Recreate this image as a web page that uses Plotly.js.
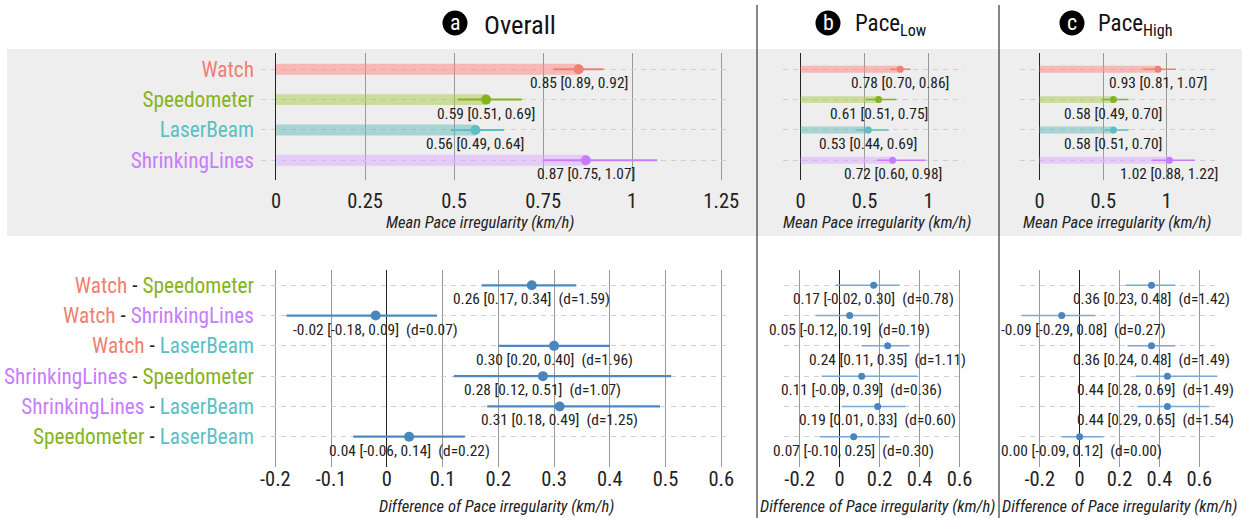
<!DOCTYPE html>
<html><head><meta charset="utf-8">
<script src="https://cdn.plot.ly/plotly-3.0.1.min.js"></script>
<style>html,body{margin:0;padding:0;background:#fff;} #chart{width:1242px;height:518px;}</style>
</head><body><div id="chart"></div>
<script>
// ---------- data ----------
const conditions = ['Watch', 'Speedometer', 'LaserBeam', 'ShrinkingLines'];
const condColors = ['#F07F72', '#85B41B', '#5CBFC3', '#C77CFF'];
const barColors = ['rgba(254,132,126,0.5)', 'rgba(170,202,74,0.5)', 'rgba(100,186,186,0.5)', 'rgba(220,168,255,0.5)'];

const overallMean = [0.85, 0.59, 0.56, 0.87];
const overallLow = [0.78, 0.51, 0.49, 0.75];
const overallHigh = [0.92, 0.69, 0.64, 1.07];
const overallLowPrinted = [0.89, 0.51, 0.49, 0.75];

const paceLowMean = [0.78, 0.61, 0.53, 0.72];
const paceLowLow = [0.70, 0.51, 0.44, 0.60];
const paceLowHigh = [0.86, 0.75, 0.69, 0.98];

const paceHighMean = [0.93, 0.58, 0.58, 1.02];
const paceHighLow = [0.81, 0.49, 0.51, 0.88];
const paceHighHigh = [1.07, 0.70, 0.70, 1.22];

const pairs = [[0, 1], [0, 3], [0, 2], [3, 1], [3, 2], [1, 2]];

const diffOverallMean = [0.26, -0.02, 0.30, 0.28, 0.31, 0.04];
const diffOverallLow = [0.17, -0.18, 0.20, 0.12, 0.18, -0.06];
const diffOverallHigh = [0.34, 0.09, 0.40, 0.51, 0.49, 0.14];
const diffOverallD = [1.59, 0.07, 1.96, 1.07, 1.25, 0.22];

const diffLowMean = [0.17, 0.05, 0.24, 0.11, 0.19, 0.07];
const diffLowLow = [-0.02, -0.12, 0.11, -0.09, 0.01, -0.10];
const diffLowHigh = [0.30, 0.19, 0.35, 0.39, 0.33, 0.25];
const diffLowD = [0.78, 0.19, 1.11, 0.36, 0.60, 0.30];

const diffHighMean = [0.36, -0.09, 0.36, 0.44, 0.44, 0.00];
const diffHighLow = [0.23, -0.29, 0.24, 0.28, 0.29, -0.09];
const diffHighHigh = [0.48, 0.08, 0.48, 0.69, 0.65, 0.12];
const diffHighD = [1.42, 0.27, 1.49, 1.49, 1.54, 0.00];

const topTicksA = [0, 0.25, 0.5, 0.75, 1, 1.25];
const topTicksA_text = ['0', '0.25', '0.5', '0.75', '1', '1.25'];
const topTicksBC = [0, 0.5, 1];
const topTicksBC_text = ['0', '0.5', '1'];
const botTicksA = [-0.2, -0.1, 0, 0.1, 0.2, 0.3, 0.4, 0.5, 0.6];
const botTicksA_text = ['-0.2', '-0.1', '0', '0.1', '0.2', '0.3', '0.4', '0.5', '0.6'];
const botTicksBC = [-0.2, 0, 0.2, 0.4, 0.6];
const botTicksBC_text = ['-0.2', '0', '0.2', '0.4', '0.6'];

// ---------- helpers ----------
const W = 1242, H = 518;
const FONT = 'Roboto Condensed, DejaVu Sans Condensed, sans-serif';
const px = x => x / W;
const py = y => 1 - y / H;
const NB = '\u00A0';
const f2 = v => v.toFixed(2);
const STEEL = '#4A86BE';
const LBL = 15.4, TICK = 20.5, YLBL = 21.3, TITLE = 26.5, PACE = 23, AXT = 16.5;
// horizontal extents (px) within which value labels of each column are kept
const columnBounds = {a: [8, 754], b: [759, 997], c: [1001, 1234]};
const xrefColumn = {x: 'a', x4: 'a', x2: 'b', x5: 'b', x3: 'c', x6: 'c'};

const traces = [];
const annotations = [];

function topPanel(k, mean, low, high, lowPrinted, barW, mSize, lw) {
  const xr = 'x' + (k === 1 ? '' : k), yr = 'y' + (k === 1 ? '' : k);
  traces.push({
    type: 'bar', orientation: 'h', xaxis: xr, yaxis: yr,
    x: mean, y: conditions.map((c, i) => i), width: barW,
    marker: {color: barColors, line: {width: 0}}, hoverinfo: 'skip'
  });
  conditions.forEach((c, i) => {
    traces.push({
      type: 'scatter', mode: 'markers', xaxis: xr, yaxis: yr,
      x: [mean[i]], y: [i],
      marker: {color: condColors[i], size: mSize},
      error_x: {type: 'data', symmetric: false, array: [high[i] - mean[i]], arrayminus: [mean[i] - low[i]],
                width: 0, thickness: lw, color: condColors[i]},
      hoverinfo: 'skip'
    });
    annotations.push({
      xref: xr, yref: yr, x: mean[i], y: i, yshift: -14, showarrow: false,
      text: f2(mean[i]) + ' [' + f2(lowPrinted[i]) + ', ' + f2(high[i]) + ']',
      font: {family: FONT, size: LBL, color: '#222'}
    });
  });
}

function botPanel(k, mean, low, high, d, mSize, lw, lineColor) {
  const xr = 'x' + k, yr = 'y' + k;
  traces.push({
    type: 'scatter', mode: 'markers', xaxis: xr, yaxis: yr,
    x: mean, y: pairs.map((p, i) => i),
    marker: {color: STEEL, size: mSize},
    error_x: {type: 'data', symmetric: false, array: high.map((h, i) => h - mean[i]),
              arrayminus: low.map((l, i) => mean[i] - l), width: 0, thickness: lw, color: lineColor},
    hoverinfo: 'skip'
  });
  mean.forEach((m, i) => {
    annotations.push({
      xref: xr, yref: yr, x: m, y: i, yshift: -14, showarrow: false,
      text: f2(m) + ' [' + f2(low[i]) + ', ' + f2(high[i]) + ']' + NB + NB + '(d=' + f2(d[i]) + ')',
      font: {family: FONT, size: LBL, color: '#222'}
    });
  });
}

topPanel(1, overallMean, overallLow, overallHigh, overallLowPrinted, 0.36, 10, 2);
topPanel(2, paceLowMean, paceLowLow, paceLowHigh, paceLowLow, 0.23, 7, 1.5);
topPanel(3, paceHighMean, paceHighLow, paceHighHigh, paceHighLow, 0.23, 7, 1.5);
botPanel(4, diffOverallMean, diffOverallLow, diffOverallHigh, diffOverallD, 10, 2.2, '#4F89C0');
botPanel(5, diffLowMean, diffLowLow, diffLowHigh, diffLowD, 7, 1.5, '#7AA8D6');
botPanel(6, diffHighMean, diffHighLow, diffHighHigh, diffHighD, 7, 1.5, '#7AA8D6');

function xAxis(d0, d1, range, tv, tt, anchor, standoff) {
  return {
    domain: [px(d0), px(d1)], range: range, anchor: anchor,
    tickvals: tv, ticktext: tt, ticks: '', ticklabelstandoff: standoff,
    showgrid: true, gridcolor: '#999999', gridwidth: 1,
    zeroline: true, zerolinecolor: '#222', zerolinewidth: 1,
    showline: false, fixedrange: true,
    tickfont: {family: FONT, size: TICK, color: '#222'}
  };
}
function yAxis(t0, t1, range, n, anchor, labels) {
  const a = {
    domain: [py(t1), py(t0)], range: range, anchor: anchor,
    tickvals: Array.from({length: n}, (v, i) => i),
    showgrid: true, gridcolor: '#cfcfcf', gridwidth: 1, griddash: '5px,5px',
    zeroline: false, showline: false, ticks: '', fixedrange: true,
    showticklabels: !!labels, ticklabelstandoff: 6,
    tickfont: {family: FONT, size: YLBL, color: '#222'}
  };
  if (labels) a.ticktext = labels;
  return a;
}
const span = i => '<span style="color:' + condColors[i] + '">' + conditions[i] + '</span>';
const topLabels = conditions.map((c, i) => span(i));
const pairLabels = pairs.map(p => span(p[0]) + ' - ' + span(p[1]));

const TOP = [53, 180], BOT = [270, 466.7];
const topYR = [3.65, -0.537], botYR = [5.99, -0.505];

function paperText(x, y, text, size, color, xanchor) {
  return {xref: 'paper', yref: 'paper', x: px(x), y: py(y), text: text, showarrow: false,
          xanchor: xanchor || 'center', yanchor: 'middle', font: {family: FONT, size: size, color: color}};
}
function circle(cx, cy, r) {
  return {type: 'circle', xref: 'paper', yref: 'paper', x0: px(cx - r), x1: px(cx + r),
          y0: py(cy + r), y1: py(cy - r), fillcolor: '#000', line: {width: 0}};
}

const layout = {
  width: W, height: H, margin: {l: 0, r: 0, t: 0, b: 0},
  paper_bgcolor: '#fff', plot_bgcolor: 'rgba(0,0,0,0)',
  showlegend: false, hovermode: false, barmode: 'overlay',
  font: {family: FONT, color: '#222'},
  xaxis: xAxis(261, 728, [-0.042, 1.269], topTicksA, topTicksA_text, 'y', 6),
  xaxis2: xAxis(782.8, 963.6, [-0.139, 1.275], topTicksBC, topTicksBC_text, 'y2', 6),
  xaxis3: xAxis(1020.4, 1217.9, [-0.15, 1.40], topTicksBC, topTicksBC_text, 'y3', 6),
  xaxis4: xAxis(261, 729.5, [-0.2257, 0.6147], botTicksA, botTicksA_text, 'y4', -2),
  xaxis5: xAxis(783.5, 963.6, [-0.281, 0.62], botTicksBC, botTicksBC_text, 'y5', -2),
  xaxis6: xAxis(1020.4, 1217.9, [-0.297, 0.693], botTicksBC, botTicksBC_text, 'y6', -2),
  yaxis: yAxis(TOP[0], TOP[1], topYR, 4, 'x', topLabels),
  yaxis2: yAxis(TOP[0], TOP[1], topYR, 4, 'x2', null),
  yaxis3: yAxis(TOP[0], TOP[1], topYR, 4, 'x3', null),
  yaxis4: yAxis(BOT[0], BOT[1], botYR, 6, 'x4', pairLabels),
  yaxis5: yAxis(BOT[0], BOT[1], botYR, 6, 'x5', null),
  yaxis6: yAxis(BOT[0], BOT[1], botYR, 6, 'x6', null),
  shapes: [
    {type: 'rect', xref: 'paper', yref: 'paper', x0: px(7), x1: 1, y0: py(236), y1: py(49),
     fillcolor: '#EEEEEE', line: {width: 0}, layer: 'below'},
    {type: 'line', xref: 'paper', yref: 'paper', x0: px(757), x1: px(757), y0: 0, y1: py(5),
     line: {color: '#111', width: 1}, layer: 'above'},
    {type: 'line', xref: 'paper', yref: 'paper', x0: px(999), x1: px(999), y0: 0, y1: py(5),
     line: {color: '#111', width: 1}, layer: 'above'},
    circle(455, 23, 12.5),
    circle(828, 23, 12.5),
    circle(1072, 23, 12.5)
  ],
  annotations: annotations.concat([
    paperText(455, 22.5, 'a', 22, '#fff'),
    paperText(828, 22.5, 'b', 22, '#fff'),
    paperText(1072, 22.5, 'c', 22, '#fff'),
    paperText(482, 24, 'Overall', TITLE, '#111', 'left'),
    paperText(853, 25, 'Pace<sub>Low</sub>', PACE, '#111', 'left'),
    paperText(1096, 25, 'Pace<sub>High</sub>', PACE, '#111', 'left'),
    paperText(480, 222.5, '<i>Mean Pace irregularity (km/h)</i>', AXT, '#222'),
    paperText(877, 222.5, '<i>Mean Pace irregularity (km/h)</i>', AXT, '#222'),
    paperText(1117, 222.5, '<i>Mean Pace irregularity (km/h)</i>', AXT, '#222'),
    paperText(496, 506, '<i>Difference of Pace irregularity (km/h)</i>', AXT, '#222'),
    paperText(877, 506, '<i>Difference of Pace irregularity (km/h)</i>', AXT, '#222'),
    paperText(1119, 506, '<i>Difference of Pace irregularity (km/h)</i>', AXT, '#222')
  ])
};

Plotly.newPlot('chart', traces, layout, {displayModeBar: false, staticPlot: true}).then(gd => {
  // keep value labels inside their column (as in the reference)
  const box0 = gd.getBoundingClientRect();
  const updates = {};
  gd.querySelectorAll('g.annotation').forEach(g => {
    const i = +g.getAttribute('data-index');
    const ann = gd.layout.annotations[i];
    const col = xrefColumn[ann.xref];
    if (!col) return;
    const t = g.querySelector('text');
    if (!t) return;
    const r = t.getBoundingClientRect();
    const left = r.left - box0.left, right = r.right - box0.left;
    const [lo, hi] = columnBounds[col];
    if (right > hi) updates['annotations[' + i + '].xshift'] = hi - right;
    else if (left < lo) updates['annotations[' + i + '].xshift'] = lo - left;
  });
  if (Object.keys(updates).length) return Plotly.relayout(gd, updates);
});
</script>
</body></html>
